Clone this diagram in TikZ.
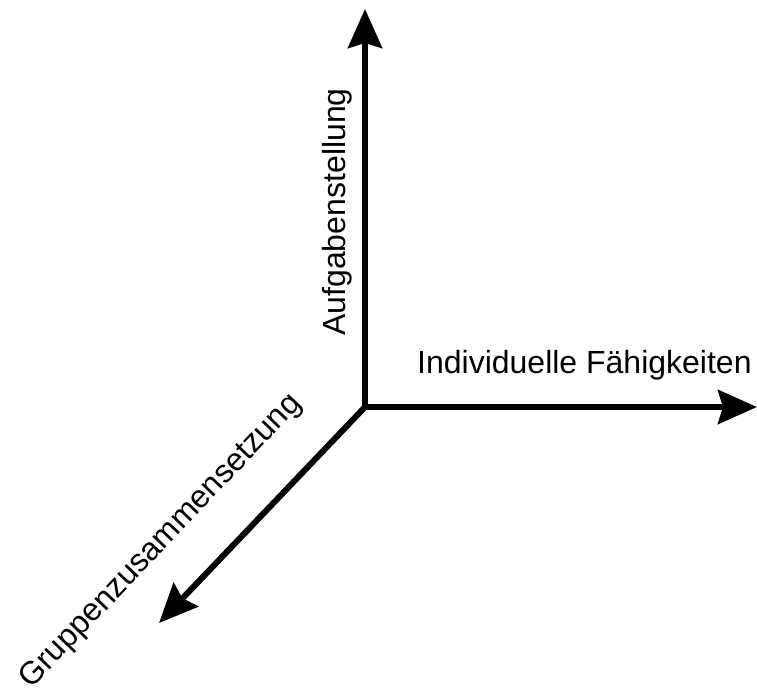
\documentclass[tikz,border=0pt]{standalone}
\usepackage{fontspec}
\setmainfont{Liberation Sans}
\usepackage{tikz}
\usetikzlibrary{arrows.meta, positioning, calc}
\tikzset{
    x=1pt, y=-1pt, % pixel coordinates of the sketch
    every edge/.style={ % Sets the properties for each axis
        draw,
        -{Stealth[length=39pt, width=34pt, inset=5pt]},
        line width=6pt
    },
    axislabel/.style={ % Sets the properties for each axis label
        inner sep=0pt,
        font=\fontsize{32pt}{38pt}\selectfont
    }
}
\begin{document}
\begin{tikzpicture}
           \useasboundingbox (0,0) rectangle (757,695);
           \coordinate (o)    at (365,407);
           \coordinate (aufg) at (365,9);
           \coordinate (ind)  at (757,407);
           \coordinate (grp)  at (159,623);
           \draw   (o) edge (aufg)
                   (o) edge (ind)
                   (o) edge (grp)
           ;
           \node[axislabel, rotate=90, anchor=base] (laufg) at (345,212) {Aufgabenstellung};
           \node[axislabel, anchor=base west]       (lind)  at (417,373) {Individuelle Fähigkeiten};
           \node[axislabel, rotate=46.4, anchor=base] (lgrp) at (167,547) {Gruppenzusammensetzung};
       \end{tikzpicture}
\end{document}
